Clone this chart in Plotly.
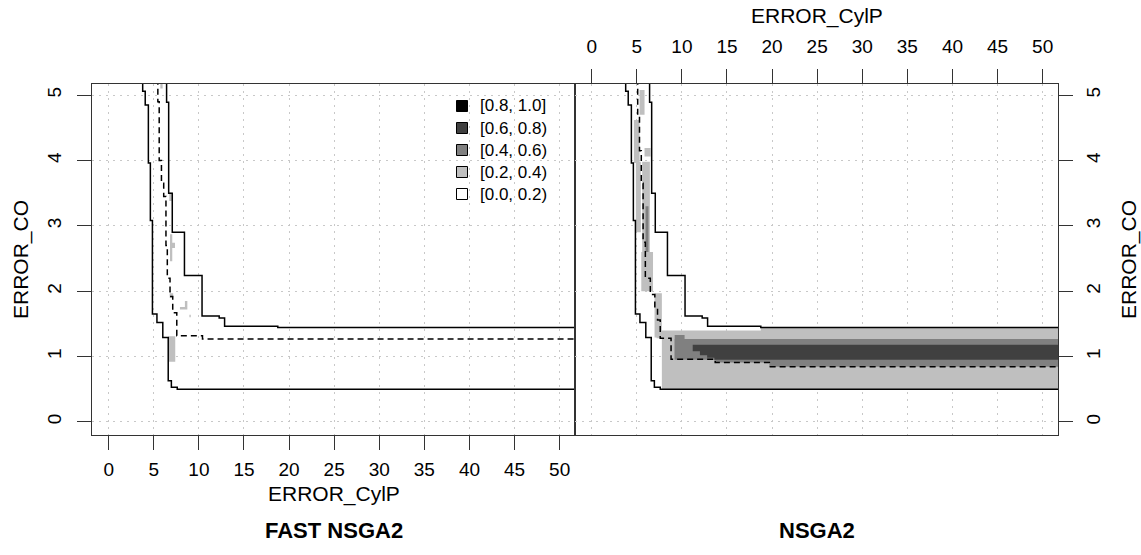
import plotly.graph_objects as go

FONT = "Liberation Sans, Arial, Helvetica, sans-serif"

W, H = 1141, 555
M_L, M_R, M_T, M_B = 92, 83, 84, 120

# axes
x_ticks = list(range(0, 51, 5))
y_ticks = list(range(0, 6))
x_range = [-1.85, 51.7]
y_range = [-0.2, 5.17]

# grand best / worst attainment surfaces (common to both panels)
best_x = [3.77, 4.05, 4.40, 4.62, 4.85, 5.35, 6.00, 6.60, 6.95, 7.60]
best_y = [5.06, 4.85, 3.96, 3.08, 1.65, 1.52, 1.29, 0.63, 0.53, 0.50]
worst_x = [6.42, 6.65, 7.05, 8.40, 10.35, 12.25, 12.85, 18.75]
worst_y = [4.89, 3.50, 2.90, 2.24, 1.62, 1.59, 1.465, 1.445]

# median attainment surfaces
med_fast_x = [5.45, 5.60, 5.85, 6.10, 6.35, 6.50, 6.80, 7.10, 7.55, 10.40]
med_fast_y = [4.90, 4.00, 3.65, 3.45, 2.70, 2.20, 1.92, 1.67, 1.32, 1.27]
med_ns_x = [5.10, 5.30, 5.50, 5.70, 5.95, 6.50, 7.00, 7.30, 7.60, 8.80, 13.70, 19.70]
med_ns_y = [4.70, 4.15, 3.65, 2.75, 2.20, 1.95, 1.75, 1.56, 1.28, 0.96, 0.91, 0.845]

# EAF differences as rectangles (x0, x1, y0, y1)
# FAST NSGA2 ahead of NSGA2
fast_02 = [
    (5.73, 5.98, 5.10, 5.19),
    (6.72, 7.00, 3.38, 3.51),
    (6.80, 7.05, 2.46, 2.87),
    (7.05, 7.35, 2.66, 2.74),
    (6.76, 7.15, 1.90, 1.97),
    (8.45, 8.72, 1.72, 1.85),
    (7.90, 8.45, 1.72, 1.76),
    (8.95, 9.10, 1.60, 1.64),
    (6.62, 7.38, 0.92, 1.31),
]
fast_04 = []
fast_06 = []

# NSGA2 ahead of FAST NSGA2
ns_02 = [
    (7.78, 52.0, 0.50, 1.28),
    (7.20, 52.0, 1.28, 1.40),
    (18.75, 52.0, 1.40, 1.445),
    (6.97, 7.78, 1.29, 1.97),
    (5.31, 5.86, 4.70, 5.08),
    (4.68, 5.31, 3.96, 4.62),
    (5.86, 6.53, 4.06, 4.19),
    (4.90, 5.45, 2.90, 3.98),
    (5.60, 6.45, 2.60, 3.98),
    (5.50, 6.80, 2.00, 2.60),
]
ns_04 = [
    (9.18, 52.0, 0.95, 1.27),
    (13.6, 52.0, 0.91, 0.95),
    (19.7, 52.0, 0.845, 0.91),
    (9.20, 10.3, 1.25, 1.33),
    (5.97, 6.30, 2.60, 3.30),
]
ns_06 = [
    (11.2, 52.0, 1.08, 1.18),
    (12.0, 52.0, 1.02, 1.08),
    (12.8, 52.0, 0.98, 1.02),
    (13.6, 52.0, 0.95, 0.98),
]

levels = ["[0.8, 1.0]", "[0.6, 0.8)", "[0.4, 0.6)", "[0.2, 0.4)", "[0.0, 0.2)"]
level_colors = ["#000000", "#404040", "#808080", "#BFBFBF", "#FFFFFF"]
C02, C04, C06 = level_colors[3], level_colors[2], level_colors[1]


def rect_path(rects):
    xs, ys = [], []
    for x0, x1, y0, y1 in rects:
        xs += [x0, x1, x1, x0, x0, None]
        ys += [y0, y0, y1, y1, y0, None]
    return xs, ys


def add_rects(fig, rects, color, xa, ya):
    if not rects:
        return
    xs, ys = rect_path(rects)
    fig.add_trace(go.Scatter(x=xs, y=ys, mode="lines", fill="toself",
                             fillcolor=color, line=dict(width=0, color=color),
                             hoverinfo="skip", showlegend=False,
                             xaxis=xa, yaxis=ya))


def add_surface(fig, xs, ys, dash, xa, ya):
    px = [xs[0]] + list(xs) + [x_range[1] + 5]
    py = [y_range[1] + 1] + list(ys) + [ys[-1]]
    fig.add_trace(go.Scatter(x=px, y=py, mode="lines", line_shape="hv",
                             line=dict(color="black", width=1.5, dash=dash),
                             hoverinfo="skip", showlegend=False,
                             xaxis=xa, yaxis=ya))


def pxx(v):
    return (v - M_L) / (W - M_L - M_R)


def pxy(v):
    return (H - M_B - v) / (H - M_T - M_B)


fig = go.Figure()

for xa, ya, r02, r04, r06, mx, my in [
    ("x", "y", fast_02, fast_04, fast_06, med_fast_x, med_fast_y),
    ("x2", "y2", ns_02, ns_04, ns_06, med_ns_x, med_ns_y),
]:
    add_rects(fig, r02, C02, xa, ya)
    add_rects(fig, r04, C04, xa, ya)
    add_rects(fig, r06, C06, xa, ya)
    add_surface(fig, best_x, best_y, "solid", xa, ya)
    add_surface(fig, worst_x, worst_y, "solid", xa, ya)
    add_surface(fig, mx, my, "6px,4px", xa, ya)

# legend box drawn inside the left panel
shapes = [dict(type="rect", xref="paper", yref="paper",
               x0=pxx(453), x1=pxx(562), y0=pxy(204), y1=pxy(97),
               fillcolor="white", line=dict(width=0), layer="between")]
annotations = []
for i, (name, col) in enumerate(zip(levels, level_colors)):
    cy = 106 + 22 * i
    shapes.append(dict(type="rect", xref="paper", yref="paper",
                       x0=pxx(456.5), x1=pxx(467.5),
                       y0=pxy(cy + 5.5), y1=pxy(cy - 5.5),
                       fillcolor=col, line=dict(color="black", width=1),
                       layer="above"))
    annotations.append(dict(text=name, x=pxx(478), y=pxy(cy), xref="paper",
                            yref="paper", showarrow=False, xanchor="left",
                            yanchor="middle", font=dict(size=17)))

axis_common = dict(
    showline=True, mirror=True, linecolor="#333333", linewidth=1,
    ticks="outside", ticklen=14, tickwidth=1, tickcolor="#333333",
    showgrid=True, gridcolor="#C8C8C8", gridwidth=1, griddash="2px,5px",
    zeroline=False, tickfont=dict(family=FONT, size=19, color="black"),
)

annotations += [
    dict(text="ERROR_CylP", x=0.25, y=-0.168, xref="paper", yref="paper",
         showarrow=False, xanchor="center", yanchor="middle",
         font=dict(size=21)),
    dict(text="ERROR_CylP", x=0.75, y=1.194, xref="paper", yref="paper",
         showarrow=False, xanchor="center", yanchor="middle",
         font=dict(size=21)),
    dict(text="ERROR_CO", x=-0.074, y=0.5, xref="paper", yref="paper",
         showarrow=False, xanchor="center", yanchor="middle",
         textangle=-90, font=dict(size=21)),
    dict(text="ERROR_CO", x=1.073, y=0.5, xref="paper", yref="paper",
         showarrow=False, xanchor="center", yanchor="middle",
         textangle=-90, font=dict(size=21)),
    dict(text="<b>FAST NSGA2</b>", x=0.25, y=-0.271, xref="paper",
         yref="paper", showarrow=False, xanchor="center",
         yanchor="middle", font=dict(size=22)),
    dict(text="<b>NSGA2</b>", x=0.75, y=-0.271, xref="paper",
         yref="paper", showarrow=False, xanchor="center",
         yanchor="middle", font=dict(size=22)),
]

fig.update_layout(
    width=W, height=H,
    margin=dict(l=M_L, r=M_R, t=M_T, b=M_B),
    paper_bgcolor="white", plot_bgcolor="white",
    font=dict(family=FONT, size=16, color="black"),
    xaxis=dict(domain=[0, 0.5], range=x_range, tickvals=x_ticks,
               anchor="y", side="bottom", ticklabelstandoff=3, **axis_common),
    yaxis=dict(domain=[0, 1], range=y_range, tickvals=y_ticks, anchor="x",
               side="left", tickangle=-90, ticklabelstandoff=8, **axis_common),
    xaxis2=dict(domain=[0.5, 1], range=x_range, tickvals=x_ticks,
                anchor="y2", side="top", ticklabelstandoff=8, **axis_common),
    yaxis2=dict(domain=[0, 1], range=y_range, tickvals=y_ticks, anchor="x2",
                side="right", tickangle=-90, ticklabelstandoff=4, **axis_common),
    showlegend=False,
    shapes=shapes,
    annotations=annotations,
)

fig.write_html("out.html")
